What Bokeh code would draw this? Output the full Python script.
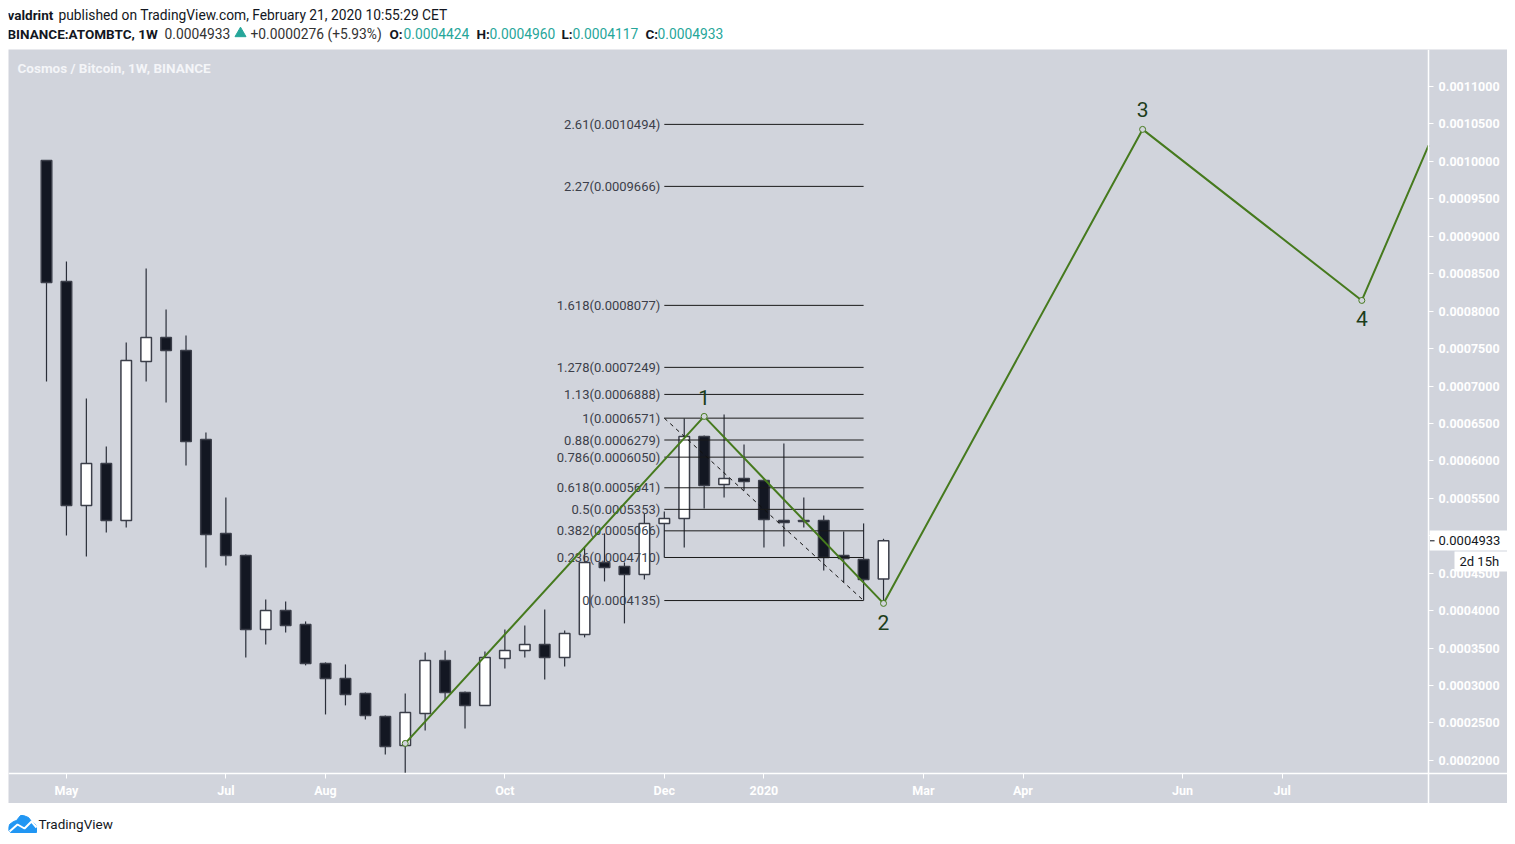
from bokeh.core.properties import value
from bokeh.embed import file_html
from bokeh.layouts import column
from bokeh.models import (BoxAnnotation, ColumnDataSource, FixedTicker, Label,
                          PrintfTickFormatter, Range1d)
from bokeh.plotting import figure
from bokeh.resources import INLINE

BG = "#d1d4dc"
DARK = "#131722"
GREEN = "#467a1e"
TEAL = "#26a69a"
FONT = "Roboto"

# weekly candles
opens = [0.0010013, 0.0008397, 0.0005405, 0.0005966, 0.0005205, 0.0007329, 0.0007649, 0.0007475, 0.0006287,
         0.0005032, 0.0004738, 0.0003749, 0.0004003, 0.0003816, 0.0003295, 0.0003095, 0.0002895, 0.0002588,
         0.0002200, 0.0002628, 0.0003335, 0.0002908, 0.0002735, 0.0003362, 0.0003469, 0.0003549, 0.0003376,
         0.0003683, 0.0004644, 0.0004591, 0.0004484, 0.0005165, 0.0005232, 0.0006327, 0.0005686, 0.0005766,
         0.0005739, 0.0005205, 0.0005192, 0.0005205, 0.0004738, 0.0004684, 0.0004424]
highs = [0.0010013, 0.0008664, 0.0006834, 0.0006193, 0.0007582, 0.0008570, 0.0008023, 0.0007676, 0.0006380,
         0.0005512, 0.0004751, 0.0004150, 0.0004123, 0.0003856, 0.0003309, 0.0003282, 0.0002908, 0.0002601,
         0.0002895, 0.0003442, 0.0003469, 0.0002921, 0.0003456, 0.0003749, 0.0003803, 0.0004017, 0.0003736,
         0.0004845, 0.0005032, 0.0004644, 0.0005299, 0.0005325, 0.0006567, 0.0006340, 0.0006621, 0.0006220,
         0.0005753, 0.0006233, 0.0005512, 0.0005272, 0.0005058, 0.0005165, 0.0004960]
lows = [0.0007061, 0.0005005, 0.0004724, 0.0005045, 0.0005112, 0.0007061, 0.0006781, 0.0005940, 0.0004577,
        0.0004604, 0.0003376, 0.0003549, 0.0003709, 0.0003269, 0.0002614, 0.0002735, 0.0002548, 0.0002080,
        0.0001826, 0.0002401, 0.0002815, 0.0002427, 0.0002735, 0.0003229, 0.0003376, 0.0003082, 0.0003255,
        0.0003643, 0.0004390, 0.0003830, 0.0004417, 0.0004711, 0.0004845, 0.0005365, 0.0005512, 0.0005606,
        0.0004845, 0.0004858, 0.0005112, 0.0004537, 0.0004377, 0.0004137, 0.0004117]
closes = [0.0008384, 0.0005405, 0.0005966, 0.0005205, 0.0007342, 0.0007649, 0.0007475, 0.0006260, 0.0005018,
          0.0004738, 0.0003749, 0.0004003, 0.0003803, 0.0003295, 0.0003095, 0.0002881, 0.0002601, 0.0002187,
          0.0002641, 0.0003335, 0.0002908, 0.0002735, 0.0003376, 0.0003469, 0.0003549, 0.0003376, 0.0003696,
          0.0004644, 0.0004577, 0.0004484, 0.0005165, 0.0005232, 0.0006327, 0.0005673, 0.0005766, 0.0005726,
          0.0005218, 0.0005178, 0.0005205, 0.0004711, 0.0004698, 0.0004417, 0.0004933]

# elliott wave drawing, last point is where it leaves the plot
wave_x = [18, 33, 42, 55, 66, 69.35]
wave_y = [0.0002227, 0.0006594, 0.0004097, 0.0010427, 0.0008143, 0.0010213]
wave_names = ["1", "2", "3", "4"]
wave_name_x = [33, 42, 55, 66]
wave_name_y = [0.0006594, 0.0004097, 0.0010427, 0.0008143]
wave_name_off = [-19, 19, -20, 18]

# fibonacci tool
fib_start = 31
fib_end = 41
fib_ratio = ["2.61", "2.27", "1.618", "1.278", "1.13", "1", "0.88", "0.786", "0.618", "0.5", "0.382", "0.236", "0"]
fib_price = [0.0010494, 0.0009666, 0.0008077, 0.0007249, 0.0006888, 0.0006571, 0.0006279, 0.0006050, 0.0005641,
             0.0005353, 0.0005066, 0.0004710, 0.0004135]

y_ticks = [0.0002, 0.00025, 0.0003, 0.00035, 0.0004, 0.00045, 0.0005, 0.00055, 0.0006, 0.00065,
           0.0007, 0.00075, 0.0008, 0.00085, 0.0009, 0.00095, 0.001, 0.00105, 0.0011]
x_tick_pos = [1, 9, 14, 23, 31, 36, 44, 49, 57, 62]
x_tick_lab = ["May", "Jul", "Aug", "Oct", "Dec", "2020", "Mar", "Apr", "Jun", "Jul"]
last_price = 0.0004933

# header text: (x, y, text, colour, style)
header = [
    (-1, 14, "valdrint", DARK, "bold"),
    (50, 14, "published on TradingView.com, February 21, 2020 10:55:29 CET", DARK, "normal"),
    (-1, 33, "BINANCE:ATOMBTC, 1W", DARK, "bold"),
    (156, 33, "0.0004933", "#333333", "normal"),
    (242, 33, "+0.0000276 (+5.93%)", "#333333", "normal"),
    (381, 33, "O:", DARK, "bold"),
    (395, 33, "0.0004424", TEAL, "normal"),
    (468, 33, "H:", DARK, "bold"),
    (481, 33, "0.0004960", TEAL, "normal"),
    (553, 33, "L:", DARK, "bold"),
    (564, 33, "0.0004117", TEAL, "normal"),
    (637, 33, "C:", DARK, "bold"),
    (649, 33, "0.0004933", TEAL, "normal"),
]

logo_x = [0, 1, 5, 8, 12, 15, 20, 23, 27, 28, 28, 2, 0]
logo_y = [24, 21, 18, 17, 12, 12, 14, 18, 21, 24, 29, 29, 27]
logo_line_x = [1, 9, 16, 23, 28]
logo_line_y = [28, 21, 25, 18, 24]


def blank(w, h):
    f = figure(width=w, height=h, x_range=Range1d(0, w), y_range=Range1d(h, 0),
               output_backend="svg", toolbar_location=None, tools="",
               x_axis_type=None, y_axis_type=None, min_border=0,
               outline_line_color=None, background_fill_color="white", border_fill_color="white")
    f.grid.visible = False
    return f


# top lines
top = blank(1499, 49)
for x, y, txt, col, style in header:
    top.add_layout(Label(x=x, y=y, text=txt, text_color=col, text_font=FONT,
                         text_font_size="13.5px" if style == "bold" else "13.8px",
                         text_font_style=style, text_baseline="middle"))
top.scatter([232], [33], marker="triangle", size=11, color=TEAL)

# main chart, the plot area covers the axis strips too so the price tag can sit on them
p = figure(width=1499, height=754, x_range=Range1d(-1.907, 73.31), y_range=Range1d(0.00014247, 0.00114941),
           y_axis_location="right", output_backend="svg", toolbar_location=None, tools="",
           min_border=0, background_fill_color=BG, border_fill_color=BG, outline_line_color=None)
p.grid.visible = False

x = list(range(len(opens)))
colors = ["white" if c >= o else DARK for o, c in zip(opens, closes)]
src = ColumnDataSource(dict(x=x, o=opens, h=highs, l=lows, c=closes, color=colors))
p.segment("x", "h", "x", "l", source=src, line_color="#2a2e39", line_width=1.2)
p.vbar("x", 0.53, "o", "c", source=src, fill_color="color", line_color="#3b3e49", line_width=1.5)

# fib levels and labels
p.segment([fib_start] * len(fib_price), fib_price, [fib_end] * len(fib_price), fib_price,
          line_color="#1a1a1a", line_width=1)
p.line([fib_start, fib_end], [fib_price[5], fib_price[-1]], line_color="#111111", line_width=1, line_dash=[4, 4])
fib_labels = [f"{r}({v:.7f})" for r, v in zip(fib_ratio, fib_price)]
p.text([fib_start] * len(fib_price), fib_price, text=fib_labels, x_offset=-4, text_align="right",
       text_baseline="middle", text_font=value(FONT), text_font_size="13px", text_color="#3c3f4a")

# wave
p.line(wave_x, wave_y, line_color=GREEN, line_width=2)
p.scatter(wave_x[:5], wave_y[:5], size=6, fill_color=BG, line_color=GREEN, line_width=1)
p.text(wave_name_x, wave_name_y, text=wave_names, y_offset=wave_name_off, text_align="center",
       text_baseline="middle", text_font=value(FONT), text_font_size="21px", text_color="#1c3d1a")

p.add_layout(Label(x=9, y=736, x_units="screen", y_units="screen", text="Cosmos / Bitcoin, 1W, BINANCE",
                   text_color="#f4f5f8", text_font=FONT, text_font_size="13.5px", text_font_style="bold",
                   text_baseline="middle"))

# axes
p.xaxis.fixed_location = 0.00018264
p.yaxis.fixed_location = 69.35
p.xaxis.ticker = FixedTicker(ticks=x_tick_pos)
p.xaxis.major_label_overrides = dict(zip(x_tick_pos, x_tick_lab))
p.yaxis.ticker = FixedTicker(ticks=y_ticks)
p.yaxis.formatter = PrintfTickFormatter(format="%.7f")
for ax in (p.xaxis[0], p.yaxis[0]):
    ax.axis_line_color = "white"
    ax.axis_line_width = 1.5
    ax.major_tick_line_color = "white"
    ax.major_tick_in = 0
    ax.major_tick_out = 5
    ax.minor_tick_line_color = None
    ax.major_label_text_color = "white"
    ax.major_label_text_font = FONT
    ax.major_label_text_font_size = "12.5px"
    ax.major_label_text_font_style = "bold"
    ax.major_label_standoff = 5

# current price tag and countdown
p.add_layout(BoxAnnotation(left=69.4, right=73.31, top=0.00050716, bottom=0.00048045,
                           fill_color="white", fill_alpha=1, line_color=None))
p.add_layout(BoxAnnotation(left=70.65, right=73.31, top=0.00047912, bottom=0.00045241,
                           fill_color="white", fill_alpha=1, line_color=None))
p.add_layout(BoxAnnotation(left=69.42, right=69.65, top=last_price + 0.0000007, bottom=last_price - 0.0000007,
                           fill_color=DARK, fill_alpha=1, line_color=None))
p.add_layout(Label(x=69.85, y=last_price, text="0.0004933", text_color=DARK, text_font=FONT,
                   text_font_size="13px", text_baseline="middle"))
p.add_layout(Label(x=70.9, y=0.00046577, text="2d 15h", text_color=DARK, text_font=FONT,
                   text_font_size="13px", text_baseline="middle"))

# footer
bot = blank(1499, 41)
bot.patch(logo_x, logo_y, color="#2196f3")
bot.line(logo_line_x, logo_line_y, line_color="white", line_width=2)
bot.add_layout(Label(x=30, y=20, text="TradingView", text_color=DARK, text_font=FONT, text_font_size="13.5px",
                     text_baseline="middle"))

page = column(top, p, bot, spacing=0, margin=(0, 0, 0, 8))
open("out.html", "w").write(file_html(page, INLINE))
